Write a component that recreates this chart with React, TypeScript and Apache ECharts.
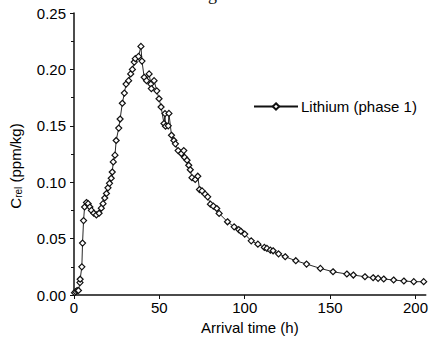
import React, { useEffect, useRef } from "react";
import * as echarts from "echarts";

const times = [
  0.3, 1.0, 1.8, 2.6, 3.5, 3.6, 4.6, 5.0, 5.6, 6.2, 7.3, 8.3, 9.3, 10.2, 11.6, 13.1, 14.7, 16.0, 17.0, 18.0,
  19.0, 19.9, 20.8, 21.8, 22.4, 23.0, 24.0, 24.7, 26.2, 27.0, 28.3, 29.5, 30.5, 32.0, 33.2, 34.2, 35.3, 35.9,
  37.8, 39.2, 39.8, 41.1, 42.5, 44.0, 45.0, 45.3, 46.9, 48.5, 49.8, 51.0, 52.7, 53.3, 53.6, 55.2, 55.6, 57.1,
  58.5, 59.4, 61.0, 62.9, 64.3, 64.8, 66.2, 67.2, 68.1, 69.1, 71.0, 72.5, 73.5, 75.0, 76.8, 78.3, 79.9, 81.6,
  83.6, 85.0, 89.9, 93.8, 96.5, 97.7, 100.0, 103.8, 107.7, 111.5, 113.0, 115.0, 116.6, 119.8, 123.7, 129.9,
  136.2, 144.3, 151.7, 159.8, 163.6, 170.4, 175.2, 178.1, 181.4, 187.2, 193.2, 199.0, 204.8,
];
const lithium = [
  0.002, 0.003, 0.004, 0.004, 0.011, 0.014, 0.025, 0.046, 0.066, 0.078, 0.082, 0.081, 0.078, 0.075, 0.0725,
  0.071, 0.0725, 0.077, 0.081, 0.086, 0.09, 0.095, 0.099, 0.1035, 0.109, 0.118, 0.124, 0.137, 0.148, 0.156,
  0.17, 0.179, 0.187, 0.19, 0.196, 0.2, 0.2065, 0.2095, 0.2115, 0.2204, 0.2074, 0.193, 0.19, 0.196, 0.187,
  0.183, 0.19, 0.181, 0.174, 0.1667, 0.152, 0.1608, 0.1496, 0.15, 0.161, 0.1416, 0.137, 0.134, 0.128, 0.1254,
  0.128, 0.122, 0.1195, 0.115, 0.111, 0.104, 0.1024, 0.1053, 0.0935, 0.0923, 0.0894, 0.087, 0.0805, 0.0788,
  0.0767, 0.0723, 0.0649, 0.0604, 0.058, 0.0565, 0.054, 0.048, 0.0451, 0.0422, 0.0413, 0.0398, 0.0392, 0.0365,
  0.0339, 0.0304, 0.0274, 0.0236, 0.0206, 0.0186, 0.0177, 0.0162, 0.0153, 0.0148, 0.0142, 0.0133, 0.0124,
  0.0118, 0.0118,
];
const seriesName = "Lithium (phase 1)";
const xTitle = "Arrival time (h)";
const yTitle = "C{sub|rel} (ppm/kg)";
const figTitle = "Figure 6a.";

export default function App() {
  const ref = useRef<HTMLDivElement>(null);
  useEffect(() => {
    if (!ref.current) return;
    const chart = echarts.init(ref.current, undefined, { renderer: "svg" });
    const font = "'Liberation Sans', Arial, sans-serif";
    chart.setOption({
      animation: false,
      backgroundColor: "#ffffff",
      textStyle: { fontFamily: font },
      graphic: [
        {
          type: "text",
          left: 193,
          top: -15,
          style: { text: figTitle, fontSize: 18, fontFamily: "'Liberation Serif', serif", fill: "#111" },
        },
        {
          type: "text",
          x: 15,
          y: 166,
          rotation: Math.PI / 2,
          style: {
            text: yTitle,
            fontSize: 15,
            fontFamily: font,
            fill: "#000",
            align: "center",
            verticalAlign: "middle",
            rich: {
              sub: { fontSize: 10, fontFamily: font, fill: "#000", padding: [7, 0, 0, 0] },
            },
          },
        },
      ],
      grid: { left: 74, top: 13, width: 356, height: 282, containLabel: false },
      legend: {
        left: 253,
        top: 99,
        padding: 0,
        itemWidth: 44,
        itemHeight: 8,
        itemGap: 4,
        textStyle: { fontSize: 15, color: "#000", fontFamily: font, padding: [0, 0, 0, -2] },
        data: [seriesName],
      },
      xAxis: {
        type: "value",
        min: 0,
        max: 206,
        interval: 50,
        name: xTitle,
        nameLocation: "middle",
        nameGap: 22,
        nameTextStyle: { fontSize: 15, color: "#000" },
        axisLine: { show: true, lineStyle: { color: "#111", width: 1.5 } },
        axisTick: { show: true, inside: false, length: 4, lineStyle: { color: "#111" } },
        axisLabel: { fontSize: 15, color: "#000", margin: 5, showMaxLabel: false },
        splitLine: { show: false },
      },
      yAxis: {
        type: "value",
        min: 0,
        max: 0.25,
        interval: 0.05,
        axisLine: { show: true, lineStyle: { color: "#111", width: 1.5 } },
        axisTick: { show: true, inside: false, length: 4, lineStyle: { color: "#111" } },
        minorTick: { show: true, splitNumber: 2, length: 3, lineStyle: { color: "#111" } },
        axisLabel: {
          fontSize: 15,
          color: "#000",
          margin: 8,
          formatter: (v: number) => v.toFixed(2),
        },
        splitLine: { show: false },
      },
      series: [
        {
          name: seriesName,
          type: "line",
          data: times.map((t, i) => [t, lithium[i]]),
          symbol: "diamond",
          symbolSize: 6,
          showAllSymbol: true,
          itemStyle: { color: "#ffffff", borderColor: "#111", borderWidth: 1.2 },
          lineStyle: { color: "#111", width: 0.9 },
        },
      ],
    });
    return () => chart.dispose();
  }, []);
  return (
    <div
      ref={ref}
      style={{ position: "fixed", left: 0, top: 0, width: 431, height: 342 }}
    />
  );
}
